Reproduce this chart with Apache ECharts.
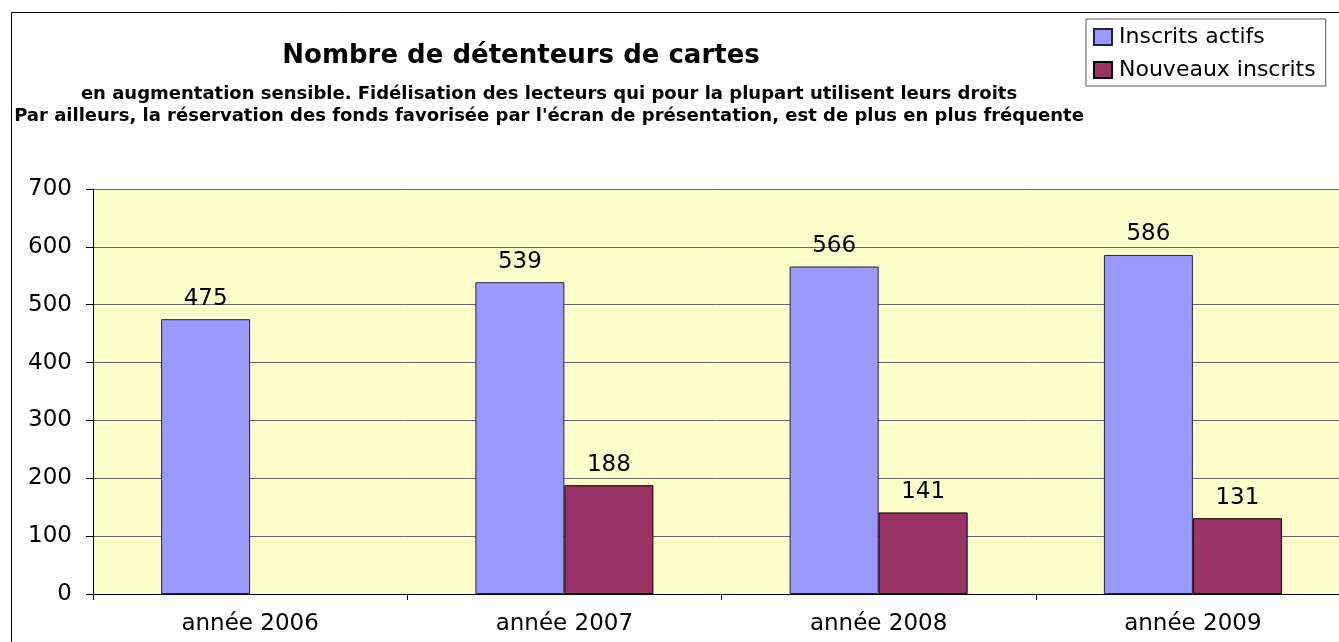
<!DOCTYPE html>
<html>
<head>
<meta charset="utf-8">
<script src="https://cdn.jsdelivr.net/npm/echarts@6/dist/echarts.min.js"></script>
<style>
    html, body { margin: 0; padding: 0; background: #fff; }
    #chart { width: 1339px; height: 642px; }
</style>
</head>
<body>
<div id="chart"></div>
<script type="text/javascript">
    var categories = ['année 2006', 'année 2007', 'année 2008', 'année 2009'];
    var inscritsActifs = [475, 539, 566, 586];
    var nouveauxInscrits = [null, 188, 141, 131];
    var seriesNames = ['Inscrits actifs', 'Nouveaux inscrits'];
    var yTicks = { min: 0, max: 700, step: 100 };

    var font = '"DejaVu Sans", Verdana, sans-serif';

    var myChart = echarts.init(document.getElementById('chart'));
    var option = {
        backgroundColor: '#fff',
        animation: false,
        title: [
            {
                text: 'Nombre de détenteurs de cartes',
                left: 521,
                top: 43,
                textAlign: 'center',
                padding: 0,
                textStyle: { fontFamily: font, fontSize: 26, fontWeight: 'bold', color: '#000' }
            },
            {
                text: 'en augmentation sensible. Fidélisation des lecteurs qui pour la plupart utilisent leurs droits\nPar ailleurs, la réservation des fonds favorisée par l\'écran de présentation, est de plus en plus fréquente',
                left: 549,
                top: 83,
                textAlign: 'center',
                padding: 0,
                textStyle: { fontFamily: font, fontSize: 18, fontWeight: 'bold', color: '#000', lineHeight: 22 }
            }
        ],
        legend: {
            orient: 'vertical',
            left: 1086,
            top: 19,
            padding: [7, 10, 5, 7],
            backgroundColor: '#fff',
            borderColor: '#555',
            borderWidth: 1,
            borderRadius: 0,
            itemWidth: 18,
            itemHeight: 16,
            itemGap: 11,
            icon: 'rect',
            textStyle: { fontFamily: font, fontSize: 22, color: '#000', padding: [0, 0, 0, 2] },
            data: seriesNames
        },
        graphic: [
            {
                type: 'rect',
                z: -10,
                shape: { x: 11.5, y: 12.5, width: 1400, height: 700 },
                style: { fill: 'none', stroke: '#000', lineWidth: 1 }
            }
        ],
        grid: {
            left: 93,
            top: 189,
            width: 1257,
            bottom: 48,
            outerBoundsMode: 'none',
            show: true,
            backgroundColor: '#FFFFCC',
            borderWidth: 0
        },
        xAxis: {
            type: 'category',
            data: categories,
            axisLine: { lineStyle: { color: '#000', width: 1 } },
            axisTick: { show: true, length: 6, lineStyle: { color: '#000' } },
            axisLabel: { fontFamily: font, fontSize: 23, color: '#000', margin: 19 }
        },
        yAxis: {
            type: 'value',
            min: yTicks.min,
            max: yTicks.max,
            interval: yTicks.step,
            axisLine: { show: true, lineStyle: { color: '#000', width: 1 } },
            axisTick: { show: true, length: 7, lineStyle: { color: '#000' } },
            axisLabel: { fontFamily: font, fontSize: 23, color: '#000', margin: 21 },
            splitLine: { show: true, lineStyle: { color: '#666', width: 1 } }
        },
        series: [
            {
                name: seriesNames[0],
                type: 'bar',
                data: inscritsActifs,
                barWidth: 89,
                barGap: '0%',
                itemStyle: { color: '#9999FF', borderColor: '#222244', borderWidth: 1 },
                label: { show: true, position: 'top', distance: 9, fontFamily: font, fontSize: 23, color: '#000' }
            },
            {
                name: seriesNames[1],
                type: 'bar',
                data: nouveauxInscrits,
                barWidth: 89,
                barGap: '0%',
                itemStyle: { color: '#993366', borderColor: '#000', borderWidth: 1 },
                label: { show: true, position: 'top', distance: 9, fontFamily: font, fontSize: 23, color: '#000' }
            }
        ]
    };
    myChart.setOption(option);
    window.onresize = function () {
        myChart.resize();
    };
</script>
</body>
</html>
